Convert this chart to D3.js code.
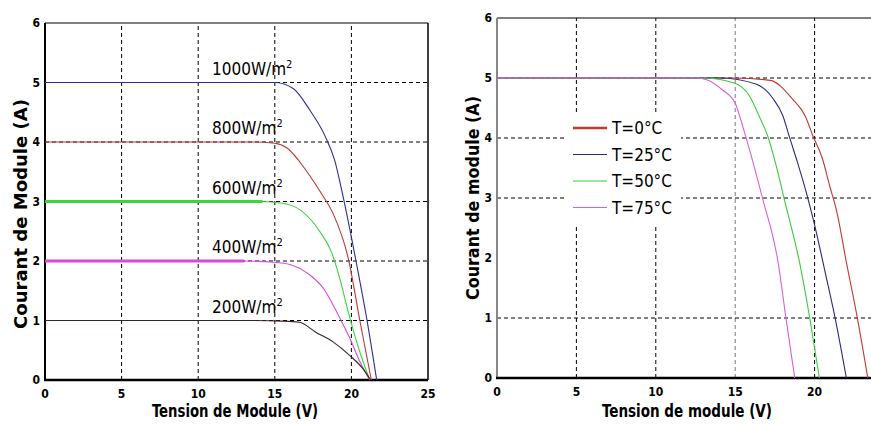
<!DOCTYPE html>
<html>
<head>
<meta charset="utf-8">
<script src="https://cdn.jsdelivr.net/npm/d3@7"></script>
<style>
  body { margin: 0; background: #fff; }
  svg { display: block; }
  text { fill: #000; }
</style>
</head>
<body>
<svg id="chart" width="871" height="425"></svg>
<script>
// left chart : irradiance
const irrLabels = ["1000W/m", "800W/m", "600W/m", "400W/m", "200W/m"];
const v1000 = [0, 13, 15, 16.2, 17.3, 18.3, 18.9, 19.5, 20.3, 21.0, 21.65];
const i1000 = [5, 5, 5, 4.9, 4.53, 4.09, 3.7, 3.03, 2.0, 1.03, 0];
const v800 = [0, 13.5, 15, 15.8, 17.1, 18.0, 18.8, 19.8, 20.55, 21.3];
const i800 = [4, 4, 3.98, 3.9, 3.5, 3.15, 2.8, 2.04, 1.0, 0];
const v600 = [0, 14, 15.5, 16.7, 17.95, 18.7, 19.25, 19.8, 20.55, 21.2];
const i600 = [3, 3, 2.97, 2.85, 2.49, 2.15, 1.7, 1.14, 0.47, 0];
const v400 = [0, 13, 15, 16.0, 17.1, 18.2, 19.05, 19.9, 20.55, 21.2];
const i400 = [2, 2, 1.98, 1.94, 1.8, 1.53, 1.14, 0.7, 0.31, 0];
const v200 = [0, 13.5, 15.5, 16.6, 17.7, 18.8, 19.9, 20.75, 21.25];
const i200 = [1, 1, 0.99, 0.97, 0.8, 0.64, 0.41, 0.19, 0];

// right chart : temperature
const tempLabels = ["T=0°C", "T=25°C", "T=50°C", "T=75°C"];
const vT0 = [0, 15, 17.2, 18.6, 19.4, 19.9, 20.5, 20.95, 21.4, 22.0, 22.7, 23.35];
const iT0 = [5, 5, 4.96, 4.65, 4.37, 4.03, 3.65, 3.2, 2.77, 1.93, 0.99, 0];
const vT25 = [0, 14, 16.3, 17.4, 18.0, 18.4, 18.95, 19.5, 19.9, 20.75, 21.3, 22.0];
const iT25 = [5, 5, 4.9, 4.65, 4.37, 4.03, 3.57, 3.07, 2.66, 1.66, 0.99, 0];
const vT50 = [0, 13, 14.9, 15.9, 16.5, 17.05, 17.6, 18.1, 19.05, 19.7, 20.3];
const iT50 = [5, 5, 4.92, 4.7, 4.37, 4.03, 3.52, 2.97, 1.93, 0.99, 0];
const vT75 = [0, 12.6, 13.2, 14.2, 15.0, 15.6, 16.2, 16.75, 17.7, 18.2, 18.75];
const iT75 = [5, 5, 4.97, 4.8, 4.58, 4.08, 3.52, 2.97, 1.93, 0.99, 0];

const xTicks = [0, 5, 10, 15, 20, 25];
const yTicks = [0, 1, 2, 3, 4, 5, 6];
const leftGridX = [5, 10, 15, 20];
const leftGridY = [1, 2, 3, 4, 5];
const rightGridX = [5, 10, 15, 20];
const rightGridY = [1, 3, 4, 5];

const NARROW = "'DejaVu Sans Condensed', 'Liberation Sans Narrow', sans-serif";

const svg = d3.select("#chart");

const zip = (vs, is) => vs.map((v, k) => ({v: v, i: is[k]}));

const leftSeries = [
  {pts: zip(v1000, i1000), color: "#2e2e96", label: irrLabels[0]},
  {pts: zip(v800, i800), color: "#b83a36", label: irrLabels[1]},
  {pts: zip(v600, i600), color: "#3fd43f", label: irrLabels[2], thickTo: 14.2},
  {pts: zip(v400, i400), color: "#d84ad8", label: irrLabels[3], thickTo: 13},
  {pts: zip(v200, i200), color: "#3a2424", label: irrLabels[4]}
];
const rightSeries = [
  {pts: zip(vT0, iT0), color: "#c0392e", label: tempLabels[0], lw: 2.6},
  {pts: zip(vT25, iT25), color: "#2a2a80", label: tempLabels[1], lw: 1.2},
  {pts: zip(vT50, iT50), color: "#3ccc3c", label: tempLabels[2], lw: 1.2},
  {pts: zip(vT75, iT75), color: "#d860d8", label: tempLabels[3], lw: 1.2}
];

function drawFrame(g, x, y, gx, gy, opts) {
  const [x0, x1] = x.range();
  const [y0, y1] = y.range();
  // grid
  g.selectAll(".gx").data(gx).enter().append("line")
    .attr("x1", d => x(d)).attr("x2", d => x(d))
    .attr("y1", y0).attr("y2", y1)
    .attr("stroke", d => (opts.lightX === d ? "#777" : "#000")).attr("stroke-width", 1)
    .attr("stroke-dasharray", "4,3");
  g.selectAll(".gy").data(gy).enter().append("line")
    .attr("x1", x0).attr("x2", Math.min(x1, 871))
    .attr("y1", d => y(d)).attr("y2", d => y(d))
    .attr("stroke", "#000").attr("stroke-width", 1)
    .attr("stroke-dasharray", "4,3");
  // box
  g.append("line").attr("x1", x0).attr("x2", x1).attr("y1", y1).attr("y2", y1)
    .attr("stroke", "#000").attr("stroke-width", 1.2);
  if (opts.rightEdge) {
    g.append("line").attr("x1", x1).attr("x2", x1).attr("y1", y0).attr("y2", y1)
      .attr("stroke", "#000").attr("stroke-width", 1.5);
  }
  g.append("line").attr("x1", x0).attr("x2", x0).attr("y1", y0 + 1).attr("y2", y1)
    .attr("stroke", opts.leftColor).attr("stroke-width", 2);
  g.append("line").attr("x1", x0 - 1).attr("x2", x1).attr("y1", y0).attr("y2", y0)
    .attr("stroke", "#000").attr("stroke-width", 2.5);

  // tick labels
  g.selectAll(".xt").data(opts.xTicks).enter().append("text")
    .attr("x", d => x(d)).attr("y", y0 + 18)
    .attr("text-anchor", "middle")
    .style("font", "bold 12px " + NARROW)
    .text(d => d);
  g.selectAll(".yt").data(opts.yTicks).enter().append("text")
    .attr("x", x0 - 5).attr("y", d => y(d) + 4)
    .attr("text-anchor", "end")
    .style("font", "bold 12px " + NARROW)
    .text(d => d);
}

// ---------- left chart ----------
const xL = d3.scaleLinear().domain([0, 25]).range([45, 428]);
const yL = d3.scaleLinear().domain([0, 6]).range([380, 23]);
const gL = svg.append("g");
drawFrame(gL, xL, yL, leftGridX, leftGridY, {rightEdge: true, leftColor: "#000", xTicks: xTicks, yTicks: yTicks});

const lineL = d3.line().x(d => xL(d.v)).y(d => yL(d.i)).curve(d3.curveMonotoneX);
leftSeries.forEach(s => {
  gL.append("path").attr("d", lineL(s.pts))
    .attr("fill", "none").attr("stroke", s.color).attr("stroke-width", 1.1);
  if (s.thickTo) {
    gL.append("path").attr("d", lineL(s.pts.filter(p => p.v < s.thickTo).concat([{v: s.thickTo, i: s.pts[0].i}])))
      .attr("fill", "none").attr("stroke", s.color).attr("stroke-width", 3);
  }
  const t = gL.append("text")
    .attr("x", 212).attr("y", yL(s.pts[0].i) - 8)
    .style("font", "17px " + NARROW);
  t.append("tspan").text(s.label);
  t.append("tspan").attr("dy", -7).style("font-size", "11px").text("2");
});

gL.append("text")
  .attr("x", 235).attr("y", 417)
  .attr("text-anchor", "middle")
  .attr("textLength", 166).attr("lengthAdjust", "spacingAndGlyphs")
  .style("font", "bold 18px " + NARROW)
  .text("Tension de Module (V)");
gL.append("text")
  .attr("transform", "translate(27,214) rotate(-90)")
  .attr("text-anchor", "middle")
  .attr("textLength", 230).attr("lengthAdjust", "spacingAndGlyphs")
  .style("font", "bold 17px 'DejaVu Sans', sans-serif")
  .text("Courant de Module (A)");

// ---------- right chart ----------
const xR = d3.scaleLinear().domain([0, 25]).range([497, 894]);
const yR = d3.scaleLinear().domain([0, 6]).range([378, 18]);
const gR = svg.append("g");
drawFrame(gR, xR, yR, rightGridX, rightGridY, {rightEdge: false, leftColor: "#888", lightX: 15, xTicks: xTicks.slice(0, 5), yTicks: yTicks});

// legend box (covers the grid)
const legX = 567, legY = 112;
gR.append("rect").attr("x", legX).attr("y", legY).attr("width", 114).attr("height", 112)
  .attr("fill", "#fff");

const lineR = d3.line().x(d => xR(d.v)).y(d => yR(d.i)).curve(d3.curveMonotoneX);
rightSeries.forEach(s => {
  gR.append("path").attr("d", lineR(s.pts))
    .attr("fill", "none").attr("stroke", s.color).attr("stroke-width", 1.1);
});

const leg = gR.selectAll(".leg").data(rightSeries).enter().append("g")
  .attr("transform", (d, k) => `translate(${legX + 6},${legY + 16 + k * 26.5})`);
leg.append("line").attr("x1", 0).attr("x2", 34).attr("y1", 0).attr("y2", 0)
  .attr("stroke", d => d.color).attr("stroke-width", d => d.lw);
leg.append("text").attr("x", 39).attr("y", 6)
  .style("font", "17px " + NARROW)
  .text(d => d.label);

gR.append("text")
  .attr("x", 687).attr("y", 417)
  .attr("text-anchor", "middle")
  .attr("textLength", 170).attr("lengthAdjust", "spacingAndGlyphs")
  .style("font", "bold 18px " + NARROW)
  .text("Tension de module (V)");
gR.append("text")
  .attr("transform", "translate(479,198) rotate(-90)")
  .attr("text-anchor", "middle")
  .attr("textLength", 204).attr("lengthAdjust", "spacingAndGlyphs")
  .style("font", "bold 17px 'DejaVu Sans', sans-serif")
  .text("Courant de module (A)");
</script>
</body>
</html>
